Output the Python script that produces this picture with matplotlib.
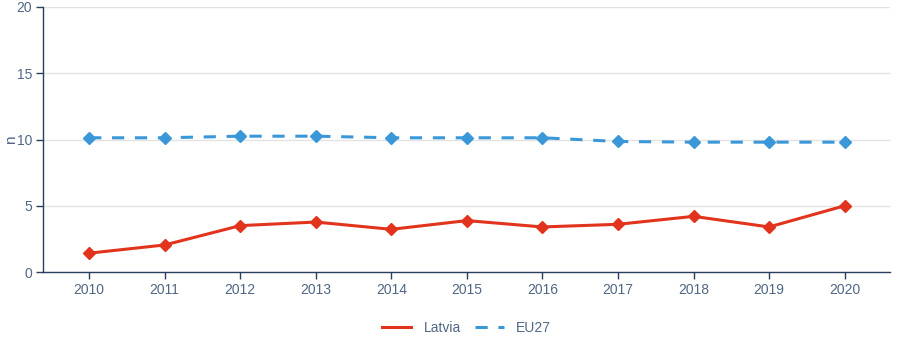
import matplotlib
matplotlib.use('Agg')
from matplotlib import pyplot as plt
from matplotlib.lines import Line2D

# 数据
years = [2010, 2011, 2012, 2013, 2014, 2015, 2016, 2017, 2018, 2019, 2020]
latvia = [1.42, 2.04, 3.5, 3.77, 3.22, 3.88, 3.4, 3.6, 4.2, 3.4, 5.0]
eu27 = [10.13, 10.13, 10.25, 10.25, 10.13, 10.13, 10.13, 9.85, 9.8, 9.8, 9.8]
y_ticks = [0, 5, 10, 15, 20]

plt.rcParams['font.family'] = ['Liberation Sans', 'DejaVu Sans']

axis_color = '#2a3f5f'
text_color = '#506784'
red = '#e2341c'
blue = '#3b98d8'
dash = (0, (4, 3.5))

fig = plt.figure(figsize=(8.98, 3.59), dpi=100)
ax = fig.add_axes([43 / 898, 87 / 359, 847 / 898, 265 / 359])

ax.plot(years, latvia, color=red, linewidth=2.2, marker='D', markersize=6, zorder=3)
ax.plot(years, eu27, color=blue, linewidth=2.2, linestyle=dash,
        marker='D', markersize=6, zorder=3)

ax.set_xlim(2009.39, 2020.6)
ax.set_ylim(0, 20)
ax.set_xticks(years)
ax.set_yticks(y_ticks)
ax.grid(axis='y', color='#e3e3e3', linewidth=1)
ax.set_axisbelow(True)

for s in ['top', 'right']:
    ax.spines[s].set_visible(False)
for s in ['left', 'bottom']:
    ax.spines[s].set_color(axis_color)
    ax.spines[s].set_linewidth(1)

ax.tick_params(axis='both', colors=axis_color, labelcolor=text_color,
               labelsize=10, length=5, width=1, pad=3)
ax.set_ylabel('n', color=text_color, fontsize=11)
ax.yaxis.set_label_coords(-0.03, 0.5)

# 图例只画线
handles = [Line2D([], [], color=red, linewidth=2.2),
           Line2D([], [], color=blue, linewidth=2.2, linestyle=dash)]
ax.legend(handles, ['Latvia', 'EU27'], loc='center', bbox_to_anchor=(0.5, -0.21),
          ncol=2, frameon=False, fontsize=10, labelcolor=text_color,
          handlelength=2.1, columnspacing=1.0, handletextpad=0.9)

fig.savefig('out.png', dpi=100)
